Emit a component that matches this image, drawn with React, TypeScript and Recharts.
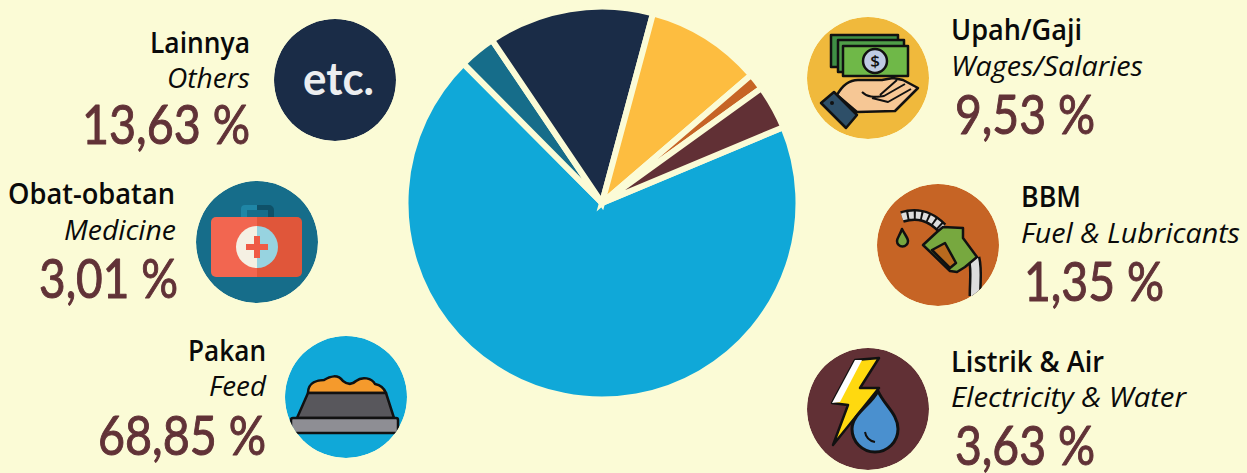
import React from 'react';
import { PieChart, Pie, Cell } from 'recharts';

const categories = ['Pakan', 'Obat-obatan', 'Lainnya', 'Upah/Gaji', 'BBM', 'Listrik & Air'];
const categoriesEn = ['Feed', 'Medicine', 'Others', 'Wages/Salaries', 'Fuel & Lubricants', 'Electricity & Water'];
const shares = [68.85, 3.01, 13.63, 9.53, 1.35, 3.63];
const colors = ['#10a8d8', '#166d8a', '#1a2c47', '#fdbd40', '#c66425', '#613035'];

const BG = '#fbfbd6';
const BROWN = '#613237';

const pieData = categories.map((name, i) => ({ name, value: shares[i] }));

// [left, width, baseline] for title, subtitle and percentage of each category
const labelBoxes = [
    [[188, 78, 361], [209, 57, 396], [98, 168, 455]],
    [[8, 167, 204], [64, 112, 240], [39, 139, 298]],
    [[150, 100, 53], [167, 83, 88], [82, 168, 144]],
    [[951, 131, 40], [951, 192, 76], [955, 140, 134]],
    [[1021, 60, 207], [1021, 219, 243], [1024, 140, 301]],
    [[951, 153, 372], [951, 235, 407], [955, 140, 465]],
];
const iconCenters = [[346, 397], [257, 242], [335, 80], [868, 78], [938, 245], [868, 409]];
const circleColors = ['#10a8d8', '#166d8a', '#1a2c47', '#f0b93c', '#c66425', '#613035'];

const FeedIcon = () => (
    <g stroke="#111" strokeWidth={2.5} strokeLinejoin="round">
        <path d="M308 393 C308 382 318 380 324 380 C330 376 338 374 343 381 C348 385 352 385 356 381 C362 376 372 378 375 384 C380 385 384 388 386 393 Z" fill="#f59a2c" />
        <path d="M308 393 L386 393 L394 418 L297 418 Z" fill="#58575c" />
        <rect x={291} y={418} width={107} height={15} rx={2} fill="#8e8e94" />
    </g>
);

const MedicineIcon = () => (
    <g>
        <path d="M241 217 v-8 a4 4 0 0 1 4 -4 h12 v5 h-10 v7 Z" fill="#1f86a6" />
        <path d="M257 205 h12 a5 5 0 0 1 5 5 v7 h-6 v-7 h-11 Z" fill="#0f5168" />
        <path d="M257 217 h-41 a5 5 0 0 0 -5 5 v50 a5 5 0 0 0 5 5 h41 Z" fill="#f26650" />
        <path d="M257 217 h40 a5 5 0 0 1 5 5 v50 a5 5 0 0 1 -5 5 h-40 Z" fill="#e0563a" />
        <path d="M257 226 a21 21 0 0 0 0 42 Z" fill="#f5f0e3" />
        <path d="M257 226 a21 21 0 0 1 0 42 Z" fill="#97d3e0" />
        <path d="M254 236 h6 v8 h8 v6 h-8 v8 h-6 v-8 h-8 v-6 h8 Z" fill="#ef5a45" />
    </g>
);

const WagesIcon = () => (
    <g stroke="#111" strokeWidth={2.5} strokeLinejoin="round">
        <rect x={831} y={35} width={67} height={32} fill="#3f8f45" />
        <rect x={838} y={40} width={66} height={32} fill="#4f9e48" />
        <rect x={843} y={46} width={65} height={30} fill="#6fb848" />
        <circle cx={875} cy={61} r={12} fill="#bfcbe3" />
        <text x={875} y={67} textAnchor="middle" fontFamily="Open Sans" fontSize={17} fontWeight={600} fill="#111" stroke="none">$</text>
        <path d="M837 95 C842 86 848 80 858 80 L882 80 L893 78 L903 80 L918 88 L895 111 L857 112 Z" fill="#f6c795" />
        <path d="M862 92 C868 98 874 97 884 96 L905 84 M872 98 L888 102 L911 89 M880 95 L897 80" fill="none" strokeWidth={2} />
        <path d="M821 103 L834 92 L857 115 L846 128 Z" fill="#2e4f68" />
        <circle cx={832} cy={103} r={2} fill="#111" stroke="none" />
    </g>
);

const FuelIcon = () => (
    <g stroke="#111" strokeWidth={2.5} strokeLinejoin="round">
        <path d="M902 217 C918 212 930 216 942 228" fill="none" stroke="#111" strokeWidth={12} />
        <path d="M902 217 C918 212 930 216 942 228" fill="none" stroke="#ddd" strokeWidth={7} strokeDasharray="5 2" />
        <path d="M974 258 C977 270 975 280 975 296" fill="none" stroke="#111" strokeWidth={13} />
        <path d="M974 258 C977 270 975 280 975 296" fill="none" stroke="#ddd" strokeWidth={8} />
        <path d="M923 245 L937 232 L943 227 L963 228 L963 238 L977 257 L965 267 L957 272 L950 271 Z" fill="#77a83f" />
        <path d="M932 250 L945 243 L956 263 L950 268 Z" fill="#b96a1e" />
        <path d="M902 229 C905 235 908 238 908 241 A5.5 5.5 0 0 1 897 241 C897 238 900 235 902 229 Z" fill="#77a83f" />
    </g>
);

const ElectricityIcon = () => (
    <g stroke="#111" strokeWidth={2.5} strokeLinejoin="round">
        <path d="M855 360 L879 358 L860 388 L879 388 L833 445 L848 405 L832 403 Z" fill="#ffd90f" />
        <path d="M855 360 L862 360 L840 402 L832 403 Z" fill="#fff" stroke="none" />
        <path d="M878 391 C884 405 898 414 898 429 A23 23 0 0 1 852 429 C852 414 871 405 878 391 Z" fill="#4a90cf" strokeWidth={3} />
        <path d="M865 432 C866 438 870 441 875 442" fill="none" strokeWidth={2} />
    </g>
);

const icons = [
    <FeedIcon key="feed" />,
    <MedicineIcon key="medicine" />,
    <text key="etc" x={303} y={95} textLength={71} lengthAdjust="spacingAndGlyphs" fontFamily="Lato" fontWeight={700} fontSize={46} fill="#eceef0">etc.</text>,
    <WagesIcon key="wages" />,
    <FuelIcon key="fuel" />,
    <ElectricityIcon key="electricity" />,
];

const formatShare = (v: number) => `${v.toFixed(2).replace('.', ',')} %`;

const App = () => {
    return (
        <div style={{ position: 'absolute', left: 0, top: 0, width: 1247, height: 473, background: BG, overflow: 'hidden' }}>
            <div style={{ position: 'absolute', left: 0, top: 0 }}>
                <PieChart width={1247} height={473} margin={{ top: 0, right: 0, bottom: 0, left: 0 }}>
                    <Pie
                        data={pieData}
                        dataKey="value"
                        cx={602}
                        cy={203}
                        innerRadius={0}
                        outerRadius={196.5}
                        startAngle={22.7}
                        endAngle={-337.3}
                        stroke={BG}
                        strokeWidth={6}
                        isAnimationActive={false}
                    >
                        {pieData.map((d, i) => (
                            <Cell key={d.name} fill={colors[i]} />
                        ))}
                    </Pie>
                </PieChart>
            </div>
            <svg width={1247} height={473} style={{ position: 'absolute', left: 0, top: 0 }}>
                <defs>
                    {iconCenters.map(([cx, cy], i) => (
                        <clipPath id={`icon-${i}`} key={i}>
                            <circle cx={cx} cy={cy} r={61} />
                        </clipPath>
                    ))}
                </defs>
                {iconCenters.map(([cx, cy], i) => (
                    <g key={categories[i]} clipPath={`url(#icon-${i})`}>
                        <circle cx={cx} cy={cy} r={61} fill={circleColors[i]} />
                        {icons[i]}
                    </g>
                ))}
                {categories.map((name, i) => {
                    const [title, sub, pct] = labelBoxes[i];
                    return (
                        <g key={name}>
                            <text x={title[0]} y={title[2]} textLength={title[1]} lengthAdjust="spacingAndGlyphs" fontFamily="Open Sans" fontWeight={600} fontSize={28} fill="#0a0a0a">
                                {name}
                            </text>
                            <text x={sub[0]} y={sub[2]} textLength={sub[1]} lengthAdjust="spacingAndGlyphs" fontFamily="Open Sans" fontStyle="italic" fontWeight={400} fontSize={27} fill="#0a0a0a">
                                {categoriesEn[i]}
                            </text>
                            <text x={pct[0]} y={pct[2]} textLength={pct[1]} lengthAdjust="spacingAndGlyphs" fontFamily="Lato" fontWeight={400} fontSize={54} fill={BROWN} stroke={BROWN} strokeWidth={1} strokeLinejoin="round">
                                {formatShare(shares[i])}
                            </text>
                        </g>
                    );
                })}
            </svg>
        </div>
    );
};

export default App;
